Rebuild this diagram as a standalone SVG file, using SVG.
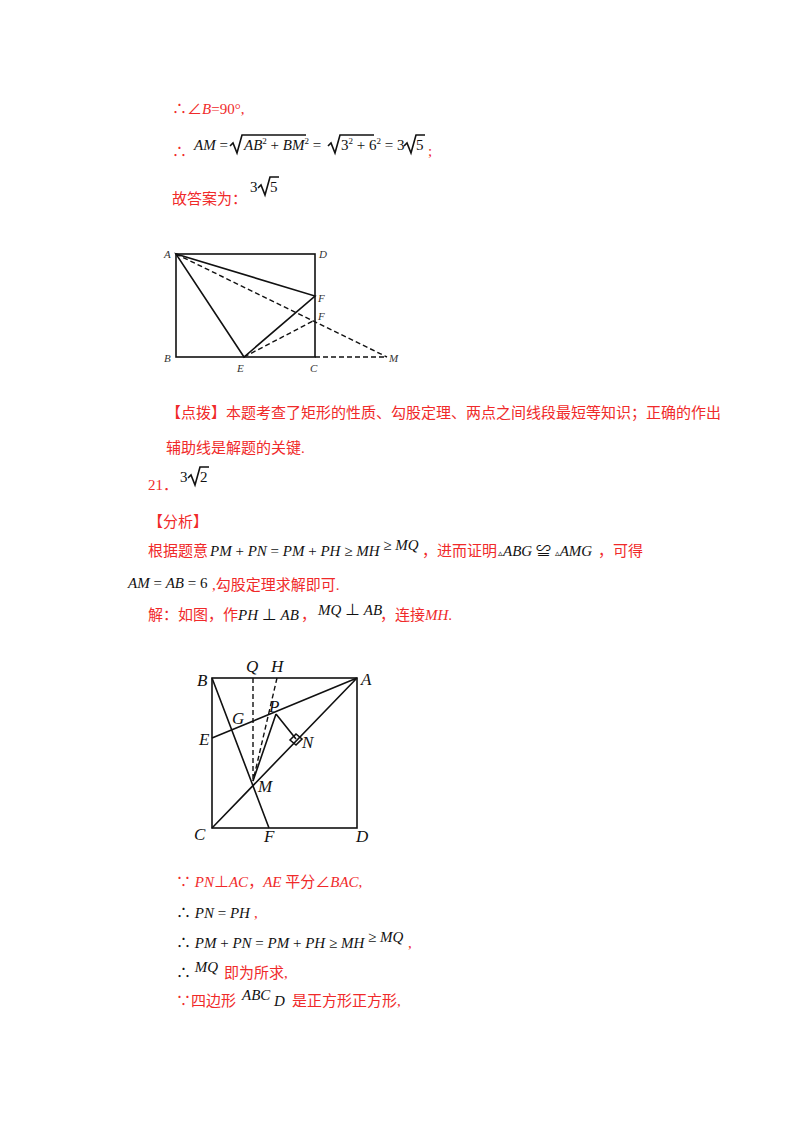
<svg xmlns="http://www.w3.org/2000/svg" width="800" height="1132" viewBox="0 0 800 1132">
<style>
.r{fill:#f02a2a;font-family:"Liberation Serif","Noto Sans CJK SC",serif;font-size:15px}
.k{fill:#111;font-family:"Liberation Serif","Noto Sans CJK SC",serif;font-size:15px;font-style:italic}
.n{fill:#111;font-family:"Liberation Serif",serif;font-size:15px}
.l{fill:#333;font-family:"Liberation Serif",serif;font-size:11px;font-style:italic}
.L{fill:#111;font-family:"Liberation Serif",serif;font-size:17px;font-style:italic}
.s{stroke:#111;stroke-width:1.6;fill:none}
.d{stroke:#111;stroke-width:1.4;fill:none;stroke-dasharray:5,3}
</style>
<rect width="800" height="1132" fill="#fff"/>
<text x="172" y="114" class="r">∴∠<tspan font-style="italic">B</tspan>=90°,</text>
<text x="172" y="157" class="r" font-size="18">∴</text>
<text x="194" y="150" class="k">AM <tspan font-style="normal">=</tspan></text>
<path d="M230 146 l3 -3 l4 10 l5 -18 h64" class="s" stroke-width="1"/>
<text x="244" y="150" class="k">AB<tspan font-size="9" dy="-6" font-style="normal">2</tspan><tspan dy="6" font-style="normal"> + </tspan>BM<tspan font-size="9" dy="-6" font-style="normal">2</tspan><tspan dy="6" font-style="normal"> =</tspan></text>
<path d="M328 146 l3 -3 l4 10 l5 -18 h34" class="s" stroke-width="1"/>
<text x="341" y="150" class="n">3<tspan font-size="9" dy="-6">2</tspan><tspan dy="6"> + 6</tspan><tspan font-size="9" dy="-6">2</tspan><tspan dy="6"> = 3</tspan></text>
<path d="M404 146 l3 -3 l4 10 l5 -18 h9" class="s" stroke-width="1"/>
<text x="416" y="150" class="n">5</text>
<text x="428" y="156" class="r">;</text>
<text x="172" y="204" class="r">故答案为：</text>
<text x="250" y="192" class="n">3</text>
<path d="M258 188 l3 -3 l4 10 l5 -18 h9" class="s" stroke-width="1"/>
<text x="270" y="192" class="n">5</text>

<g id="fig1">
<rect x="176" y="254" width="139" height="103" class="s"/>
<path d="M176 254 L315 296 L244 357 Z" class="s"/>
<path d="M176 254 L387 357 M244 357 L315 320 M315 357 H387" class="d"/>
<text x="164" y="258" class="l">A</text><text x="319" y="258" class="l">D</text>
<text x="164" y="362" class="l">B</text><text x="310" y="372" class="l">C</text>
<text x="237" y="372" class="l">E</text><text x="318" y="302" class="l">F</text>
<text x="318" y="320" class="l">F</text><text x="389" y="362" class="l">M</text>
</g>

<text x="166" y="418" class="r">【点拨】本题考查了矩形的性质、勾股定理、两点之间线段最短等知识；正确的作出</text>
<text x="166" y="453" class="r">辅助线是解题的关键.</text>
<text x="148" y="490" class="r">21．</text>
<text x="180" y="482" class="n">3</text>
<path d="M188 478 l3 -3 l4 10 l5 -18 h9" class="s" stroke-width="1"/>
<text x="200" y="482" class="n">2</text>
<text x="148" y="527" class="r">【分析】</text>
<text x="148" y="556" class="r">根据题意</text>
<text x="210" y="556" class="k">PM <tspan font-style="normal">+ </tspan>PN <tspan font-style="normal">= </tspan>PM <tspan font-style="normal">+ </tspan>PH <tspan font-style="normal">≥ </tspan>MH <tspan font-style="normal" dy="-6">≥ </tspan>MQ</text>
<text x="422" y="556" class="r">，进而证明</text>
<text x="498" y="556" class="k"><tspan font-size="9" font-style="normal">▵</tspan>ABG <tspan font-style="normal">≌ </tspan><tspan font-size="9" font-style="normal">▵</tspan>AMG</text>
<text x="598" y="556" class="r">，可得</text>
<text x="128" y="588" class="k">AM <tspan font-style="normal">= </tspan>AB <tspan font-style="normal">= 6</tspan></text>
<text x="212" y="590" class="r">,勾股定理求解即可.</text>
<text x="148" y="620" class="r">解：如图，作</text>
<text x="238" y="620" class="k">PH <tspan font-style="normal">⊥ </tspan>AB</text>
<text x="301" y="620" class="r">，</text>
<text x="318" y="615" class="k" font-size="13">MQ <tspan font-style="normal">⊥ </tspan>AB</text>
<text x="380" y="620" class="r">，连接<tspan font-style="italic">MH</tspan>.</text>

<g id="fig2">
<rect x="212" y="678" width="145" height="150" class="s"/>
<path d="M212 678 L269 828 M212 828 L357 678 M212 738 L357 678 M276 714 L296 739 M276 714 L253 781" class="s"/>
<path d="M290 740 l6 -6 l6 5 l-6 6 z" class="s" stroke-width="1.2"/>
<path d="M253 678 V781 M277 678 L253 781" class="d" stroke-width="1.1" stroke-dasharray="4,3"/>
<text x="246" y="672" class="L" font-size="20">Q</text><text x="271" y="672" class="L" font-size="20">H</text>
<text x="197" y="686" class="L">B</text><text x="361" y="685" class="L">A</text>
<text x="199" y="745" class="L">E</text><text x="232" y="724" class="L">G</text>
<text x="269" y="712" class="L">P</text><text x="302" y="748" class="L">N</text>
<text x="258" y="792" class="L">M</text><text x="194" y="840" class="L">C</text>
<text x="264" y="842" class="L">F</text><text x="356" y="842" class="L">D</text>
</g>

<text x="176" y="887" class="r">∵ <tspan font-style="italic">PN</tspan>⊥<tspan font-style="italic">AC</tspan>，<tspan font-style="italic">AE</tspan> 平分∠<tspan font-style="italic">BAC</tspan>,</text>
<text x="176" y="918" class="k"><tspan font-style="normal">∴ </tspan>PN <tspan font-style="normal">= </tspan>PH</text>
<text x="254" y="918" class="r">,</text>
<text x="176" y="948" class="k"><tspan font-style="normal">∴ </tspan>PM <tspan font-style="normal">+ </tspan>PN <tspan font-style="normal">= </tspan>PM <tspan font-style="normal">+ </tspan>PH <tspan font-style="normal">≥ </tspan>MH <tspan font-style="normal" dy="-6">≥ </tspan>MQ</text>
<text x="408" y="948" class="r">,</text>
<text x="176" y="978" class="k"><tspan font-style="normal">∴ </tspan><tspan dy="-6">MQ</tspan></text>
<text x="224" y="978" class="r">即为所求,</text>
<text x="176" y="1006" class="r">∵四边形</text>
<text x="242" y="1000" class="k">ABC <tspan dy="6">D</tspan></text>
<text x="292" y="1006" class="r">是正方形正方形,</text>
</svg>
